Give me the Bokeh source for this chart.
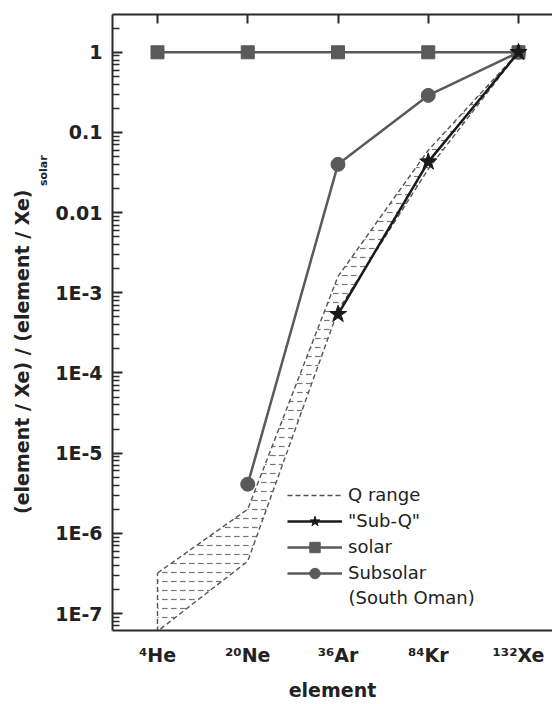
import math
from bokeh.plotting import figure
from bokeh.models import (FixedTicker, LinearAxis, Label, Legend, LegendItem, Range1d, Title)
from bokeh.embed import file_html
from bokeh.resources import INLINE

# ---------------- data ----------------
elements = ["He", "Ne", "Ar", "Kr", "Xe"]
mass_numbers = ["⁴", "²⁰", "³⁶", "⁸⁴", "¹³²"]
xpos = [0, 1, 2, 3, 4]

solar = [1.0, 1.0, 1.0, 1.0, 1.0]

subsolar_x = [1, 2, 3, 4]
subsolar = [4.1e-6, 0.040, 0.29, 1.0]

subq_x = [2, 3, 4]
subq = [5.4e-4, 0.043, 1.0]

q_upper = [3.2e-7, 2.0e-6, 1.6e-3, 0.060, 1.0]
q_lower = [6.0e-8, 4.5e-7, 6.0e-4, 0.035, 1.0]

y_ticks = [1e-7, 1e-6, 1e-5, 1e-4, 1e-3, 1e-2, 1e-1, 1.0]
y_tick_labels = ["1E-7", "1E-6", "1E-5", "1E-4", "1E-3", "0.01", "0.1", "1"]

# ---------------- figure ----------------
FONT = "DejaVu Sans"
GRAY = "#5a5a5a"
DARK = "#1a1a1a"
AXC = "#2a2a2a"
TXT = "#222222"

p = figure(width=552, height=704, output_backend="svg", toolbar_location=None,
           x_range=Range1d(-0.4986, 4.3767), y_range=Range1d(6.14e-8, 2.96),
           y_axis_type="log",
           min_border_left=112, min_border_right=0, min_border_top=14, min_border_bottom=74)
p.xgrid.visible = False
p.ygrid.visible = False
p.outline_line_color = None
p.background_fill_color = "white"
p.border_fill_color = "white"

# y axis
minor = [m * 10.0 ** e for e in range(-8, 1) for m in range(2, 10)]
ya = p.yaxis[0]
ya.ticker = FixedTicker(ticks=y_ticks, minor_ticks=minor)
ya.major_label_overrides = {t: l for t, l in zip(y_ticks, y_tick_labels)}
ya.major_tick_in = 10
ya.major_tick_out = 0
ya.minor_tick_in = 7
ya.minor_tick_out = 0
ya.axis_line_width = 2
ya.axis_line_color = AXC
ya.major_tick_line_width = 2
ya.major_tick_line_color = AXC
ya.minor_tick_line_width = 1.5
ya.minor_tick_line_color = AXC
ya.major_label_text_font = FONT
ya.major_label_text_font_style = "bold"
ya.major_label_text_font_size = "19px"
ya.major_label_text_color = TXT
ya.major_label_standoff = 10

# bottom axis: element labels with superscript mass numbers
xa = p.xaxis[0]
xa.ticker = FixedTicker(ticks=xpos)
xa.major_label_overrides = {x: m + s for x, m, s in zip(xpos, mass_numbers, elements)}
xa.major_tick_in = 0
xa.major_tick_out = 0
xa.minor_tick_line_color = None
xa.major_label_text_font = FONT
xa.major_label_text_font_style = "bold"
xa.major_label_text_font_size = "19px"
xa.major_label_text_color = TXT
xa.major_label_standoff = 13
xa.axis_line_width = 2
xa.axis_line_color = AXC
xa.axis_label = "element"
xa.axis_label_text_font = FONT
xa.axis_label_text_font_style = "bold"
xa.axis_label_text_font_size = "19px"
xa.axis_label_text_color = TXT
xa.axis_label_standoff = 10

# top axis with inward ticks
top = LinearAxis(ticker=FixedTicker(ticks=xpos), major_tick_in=9, major_tick_out=0,
                 minor_tick_line_color=None, major_label_text_font_size="0px",
                 major_label_standoff=0, axis_line_width=2, axis_line_color=AXC,
                 major_tick_line_width=2, major_tick_line_color=AXC)
p.add_layout(top, "above")

# y axis title: main text and subscript as side-panel titles
p.add_layout(Title(text="solar", align="left", offset=444.5, standoff=5,
                   text_font=FONT, text_font_style="bold", text_font_size="11px",
                   text_color=TXT), "left")
p.add_layout(Title(text="(element / Xe) / (element / Xe)", align="left", offset=116.5,
                   standoff=0, text_font=FONT, text_font_style="bold",
                   text_font_size="19px", text_color=TXT), "left")

# ---------------- Q range ----------------
qx = xpos + xpos[::-1] + [xpos[0]]
qy = q_upper + q_lower[::-1] + [q_upper[0]]
p.patch(x=xpos + xpos[::-1], y=q_upper + q_lower[::-1], fill_alpha=0,
        line_color=None, hatch_pattern="horizontal_dash", hatch_scale=9,
        hatch_color="#777777", hatch_weight=1.2)
q_line = p.line(x=qx, y=qy, line_color="#555555", line_width=1.4, line_dash="5 3")

# ---------------- series ----------------
solar_line = p.line(x=xpos, y=solar, line_color=GRAY, line_width=2.5)
solar_pts = p.scatter(x=xpos, y=solar, marker="square", size=13, fill_color=GRAY, line_color=GRAY)

sub_line = p.line(x=subsolar_x, y=subsolar, line_color=GRAY, line_width=2.5)
sub_pts = p.scatter(x=subsolar_x, y=subsolar, marker="circle", size=14, fill_color=GRAY, line_color=GRAY)

subq_line = p.line(x=subq_x, y=subq, line_color=DARK, line_width=2.5)
subq_pts = p.scatter(x=subq_x, y=subq, marker="star", size=18, fill_color=DARK, line_color=DARK)

# ---------------- legend ----------------
legend = Legend(items=[
    LegendItem(label="Q range", renderers=[q_line]),
    LegendItem(label='"Sub-Q"', renderers=[subq_line, subq_pts]),
    LegendItem(label="solar", renderers=[solar_line, solar_pts]),
    LegendItem(label="Subsolar", renderers=[sub_line, sub_pts]),
], location=(175, 44.5), glyph_width=55, glyph_height=26, label_height=20,
    label_standoff=6, spacing=0, padding=0, margin=0, border_line_color=None,
    background_fill_alpha=0, label_text_font=FONT, label_text_font_size="18px",
    label_text_color=TXT)
p.add_layout(legend)
p.add_layout(Label(x=236, y=33, x_units="screen", y_units="screen", text="(South Oman)",
                   text_align="left", text_baseline="alphabetic", text_font=FONT,
                   text_font_size="18px", text_color=TXT))

open("out.html", "w").write(file_html(p, INLINE))
